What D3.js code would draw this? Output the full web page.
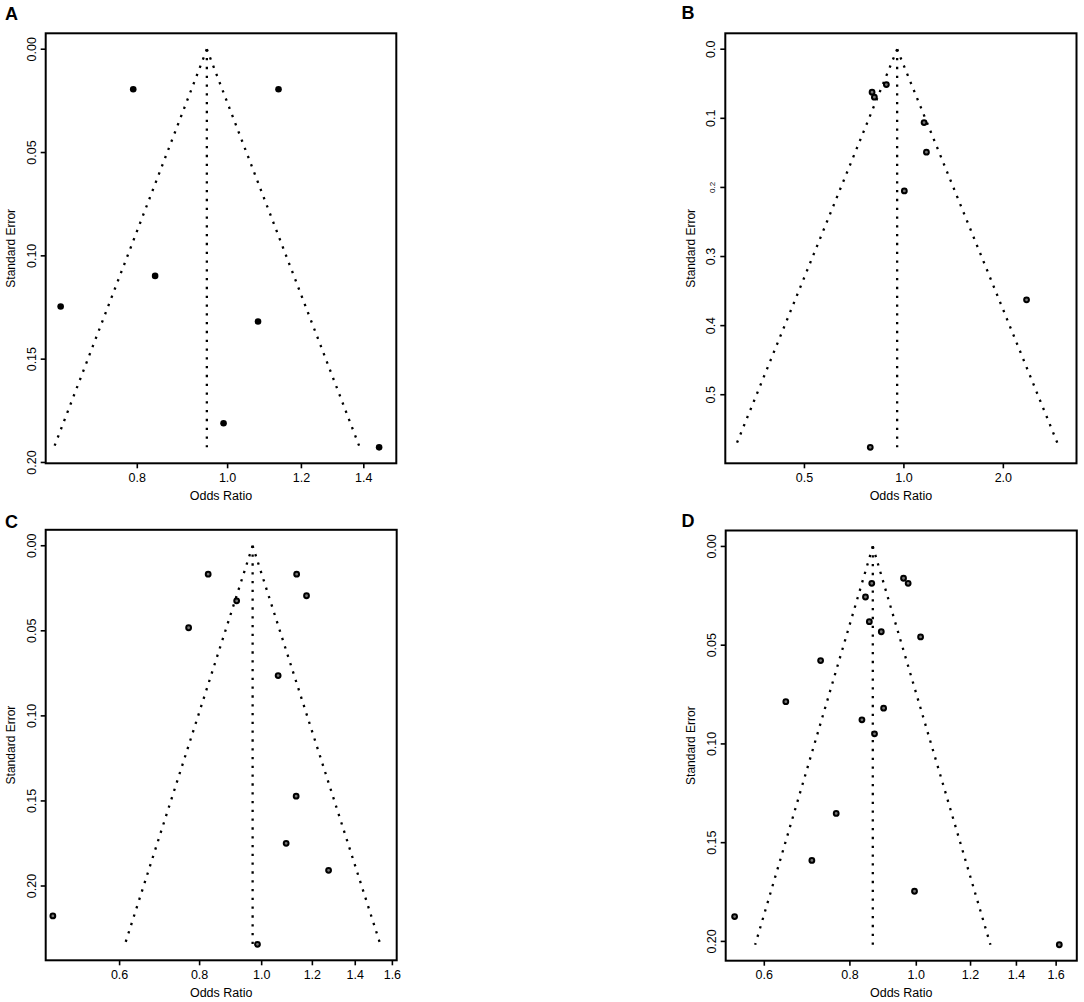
<!DOCTYPE html>
<html>
<head>
<meta charset="utf-8">
<script src="https://cdn.jsdelivr.net/npm/d3@7/dist/d3.min.js"></script>
<style>
body { margin: 0; background: #fff; }
text { font-family: "Liberation Sans", Arial, sans-serif; fill: #000; }
</style>
</head>
<body>
<div id="gbody"></div>
<script>
/******************* datos *************************/
// A
var orA = [0.792, 1.134, 0.836, 0.662, 1.078, 0.990, 1.454];
var seA = [0.0194, 0.0194, 0.1097, 0.1245, 0.1318, 0.181, 0.1927];
var centroA = 0.950;
var ticksXA = [0.8, 1.0, 1.2, 1.4];
var ticksYA = [0, 0.05, 0.10, 0.15, 0.20];
var labelsYA = ["0.00", "0.05", "0.10", "0.15", "0.20"];

// B
var orB = [0.801, 0.814, 0.885, 1.151, 1.170, 1.003, 2.351, 0.791];
var seB = [0.0622, 0.0694, 0.0512, 0.1062, 0.149, 0.205, 0.3626, 0.5762];
var centroB = 0.954;
var ticksXB = [0.5, 1.0, 2.0];
var ticksYB = [0, 0.1, 0.2, 0.3, 0.4, 0.5];
var labelsYB = ["0.0", "0.1", "0.2", "0.3", "0.4", "0.5"];

// C
var orC = [0.825, 1.134, 1.175, 0.914, 0.769, 1.061, 1.132, 1.092, 1.272, 0.472, 0.985];
var seC = [0.0167, 0.0167, 0.0294, 0.0324, 0.0482, 0.0763, 0.1472, 0.1749, 0.1908, 0.2176, 0.2343];
var centroC = 0.968;
var ticksXC = [0.6, 0.8, 1.0, 1.2, 1.4, 1.6];
var ticksYC = [0, 0.05, 0.10, 0.15, 0.20];
var labelsYC = ["0.00", "0.05", "0.10", "0.15", "0.20"];

// D
var orD = [0.958, 0.973, 0.861, 0.843, 0.854, 0.889, 1.0145, 0.725, 0.645, 0.896, 0.833, 0.869, 0.764, 0.704, 0.994, 0.543, 1.617];
var seD = [0.0161, 0.0187, 0.0187, 0.0256, 0.0381, 0.0432, 0.0458, 0.0578, 0.0786, 0.0819, 0.0878, 0.0949, 0.1352, 0.159, 0.1746, 0.1874, 0.2017];
var centroD = 0.864;
var ticksXD = [0.6, 0.8, 1.0, 1.2, 1.4, 1.6];
var ticksYD = [0, 0.05, 0.10, 0.15, 0.20];
var labelsYD = ["0.00", "0.05", "0.10", "0.15", "0.20"];

var letras = ["A", "B", "C", "D"];

/******************* layout *************************/
var svg = d3.select("#gbody").append("svg")
    .attr("width", 1084)
    .attr("height", 1002);

var paneles = [
    {letra: letras[0], or: orA, se: seA, centro: centroA, tx: ticksXA, ty: ticksYA, ly: labelsYA,
     x0: 45.7, x1: 396.3, y0: 33.3, y1: 463.3, dom: [0.638, 1.517], relleno: true, lx: 5, lyy: 20},
    {letra: letras[1], or: orB, se: seB, centro: centroB, tx: ticksXB, ty: ticksYB, ly: labelsYB,
     x0: 725.3, x1: 1076.5, y0: 33.3, y1: 463.3, dom: [0.288, 3.33], relleno: false, lx: 681.5, lyy: 19, chico: "0.2"},
    {letra: letras[2], or: orC, se: seC, centro: centroC, tx: ticksXC, ty: ticksYC, ly: labelsYC,
     x0: 45.7, x1: 396.7, y0: 529.8, y1: 960.3, dom: [0.460, 1.625], relleno: false, lx: 5, lyy: 528},
    {letra: letras[3], or: orD, se: seD, centro: centroD, tx: ticksXD, ty: ticksYD, ly: labelsYD,
     x0: 725.7, x1: 1076.8, y0: 530.5, y1: 960.7, dom: [0.527, 1.715], relleno: false, lx: 681.5, lyy: 527}
];

paneles.forEach(function(p){

    var semax = d3.max(p.se);
    var x = d3.scaleLog().domain(p.dom).range([p.x0, p.x1]);
    var y = d3.scaleLinear().domain([-0.04 * semax, 1.04 * semax]).range([p.y0, p.y1]);

    var g = svg.append("g");

    g.append("text")
        .attr("x", p.lx)
        .attr("y", p.lyy)
        .style("font-size", "18px")
        .style("font-weight", "bold")
        .text(p.letra);

    // embudo, desde el vertice hacia abajo
    var linea = d3.line().x(function(d){ return x(d[0]); }).y(function(d){ return y(d[1]); });
    var lo = Math.exp(Math.log(p.centro) - 1.96 * semax);
    var hi = Math.exp(Math.log(p.centro) + 1.96 * semax);
    var lineas = [
        [[p.centro, 0], [p.centro, semax]],
        [[p.centro, 0], [lo, semax]],
        [[p.centro, 0], [hi, semax]]
    ];
    g.selectAll(".funnel")
        .data(lineas)
        .enter().append("path")
        .attr("d", linea)
        .attr("fill", "none")
        .attr("stroke", "#000")
        .attr("stroke-width", 2.3)
        .attr("stroke-dasharray", "2.3 6.5");

    // estudios
    g.selectAll(".punto")
        .data(p.or)
        .enter().append("circle")
        .attr("cx", function(d){ return x(d); })
        .attr("cy", function(d, i){ return y(p.se[i]); })
        .attr("r", p.relleno ? 3.3 : 2.4)
        .attr("fill", p.relleno ? "#000" : "#777")
        .attr("stroke", "#000")
        .attr("stroke-width", p.relleno ? 0 : 2);

    // marco
    g.append("rect")
        .attr("x", p.x0)
        .attr("y", p.y0)
        .attr("width", p.x1 - p.x0)
        .attr("height", p.y1 - p.y0)
        .attr("fill", "none")
        .attr("stroke", "#000")
        .attr("stroke-width", 2);

    // eje x
    g.selectAll(".tickx")
        .data(p.tx)
        .enter().append("line")
        .attr("x1", function(d){ return x(d); })
        .attr("x2", function(d){ return x(d); })
        .attr("y1", p.y1)
        .attr("y2", p.y1 + 5)
        .attr("stroke", "#000")
        .attr("stroke-width", 1.6);

    g.selectAll(".labx")
        .data(p.tx)
        .enter().append("text")
        .attr("x", function(d){ return x(d); })
        .attr("y", p.y1 + 18.5)
        .attr("text-anchor", "middle")
        .style("font-size", "12.5px")
        .text(function(d){ return d3.format(".1f")(d); });

    g.append("text")
        .attr("x", (p.x0 + p.x1) / 2)
        .attr("y", p.y1 + 36.5)
        .attr("text-anchor", "middle")
        .style("font-size", "12.5px")
        .text("Odds Ratio");

    // eje y
    g.selectAll(".ticky")
        .data(p.ty)
        .enter().append("line")
        .attr("x1", p.x0 - 5)
        .attr("x2", p.x0)
        .attr("y1", function(d){ return y(d); })
        .attr("y2", function(d){ return y(d); })
        .attr("stroke", "#000")
        .attr("stroke-width", 1.6);

    g.selectAll(".laby")
        .data(p.ty)
        .enter().append("text")
        .attr("transform", function(d){ return "translate(" + (p.x0 - 10) + "," + y(d) + ") rotate(-90)"; })
        .attr("text-anchor", "middle")
        .style("font-size", function(d, i){ return p.ly[i] === p.chico ? "8px" : "12.5px"; })
        .text(function(d, i){ return p.ly[i]; });

    g.append("text")
        .attr("transform", "translate(" + (p.x0 - 30.5) + "," + ((p.y0 + p.y1) / 2) + ") rotate(-90)")
        .attr("text-anchor", "middle")
        .style("font-size", "12px")
        .text("Standard Error");
});
</script>
</body>
</html>
